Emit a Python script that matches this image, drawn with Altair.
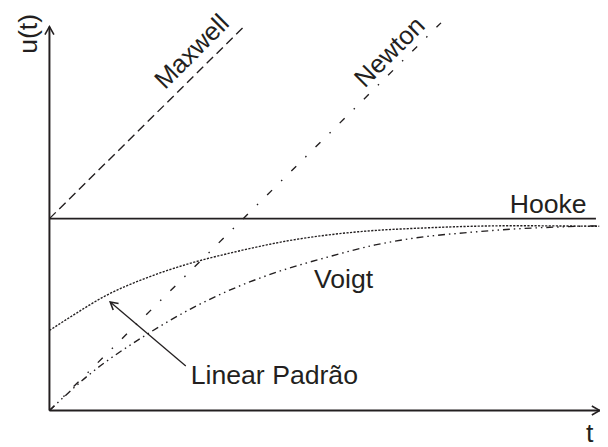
import altair as alt
import pandas as pd

# ---- data (t, u in arbitrary units) ----
maxwell_t = [0.0, 3.57]
maxwell_u = [3.5, 7.02]
newton_t = [0.0, 7.15]
newton_u = [0.0, 7.07]
hooke_t = [0.0, 9.98]
hooke_u = [3.5, 3.5]
voigt_t = [0.0, 0.72, 1.75, 2.65, 3.42, 4.14, 5.05, 5.95, 6.85, 7.57, 8.47, 9.37, 10.04]
voigt_u = [0.0, 0.65, 1.37, 1.89, 2.25, 2.52, 2.79, 3.02, 3.17, 3.24, 3.31, 3.35, 3.37]
lp_t = [0.0, 0.42, 1.02, 1.80, 2.52, 3.42, 4.44, 5.64, 6.85, 8.47, 10.04]
lp_u = [1.46, 1.73, 2.09, 2.43, 2.67, 2.90, 3.11, 3.26, 3.33, 3.37, 3.36]

# axes extents
x_axis_t = [0.0, 10.05]
x_axis_u = [0.0, 0.0]
y_axis_t = [0.0, 0.0]
y_axis_u = [0.0, 7.0]

# labels
left_text = ["Voigt", "Linear Padrão", "t"]
left_t = [4.83, 2.58, 9.80]
left_u = [2.23, 0.49, -0.58]

right_text = ["Hooke"]
right_t = [9.81]
right_u = [3.60]

diag_text = ["Maxwell", "Newton"]
diag_t = [2.11, 5.76]
diag_u = [5.84, 5.87]

# annotation arrow (tail -> tip)
ann_t = [2.49, 1.11]
ann_u = [0.81, 1.98]

INK = "#231f20"
FONT = "Liberation Sans"
FS = 27

X = lambda: alt.X("t:Q", scale=alt.Scale(domain=[0, 10], nice=False, zero=False), axis=None)
Y = lambda: alt.Y("u:Q", scale=alt.Scale(domain=[0, 7], nice=False, zero=False), axis=None)


def line(ts, us, **kw):
    df = pd.DataFrame({"t": ts, "u": us, "o": list(range(len(ts)))})
    return alt.Chart(df).mark_line(color=INK, **kw).encode(x=X(), y=Y(), order="o:Q")


def texts(ts, us, txt, size=FS, **kw):
    df = pd.DataFrame({"t": ts, "u": us, "txt": txt})
    return alt.Chart(df).mark_text(
        baseline="alphabetic", font=FONT, fontSize=size, color=INK, **kw
    ).encode(x=X(), y=Y(), text="txt:N")


axes = line(x_axis_t, x_axis_u, strokeWidth=2) + line(y_axis_t, y_axis_u, strokeWidth=2)

chev = "M-0.65,1.15L0,0L0.65,1.15"
arrows_df = pd.DataFrame({
    "t": [y_axis_t[1], x_axis_t[1], ann_t[1]],
    "u": [y_axis_u[1], x_axis_u[1], ann_u[1]],
    "ang": [0, 90, 310],
    "sz": [196, 196, 170],
})
arrows = alt.Chart(arrows_df).mark_point(
    shape=chev, filled=False, color=INK, strokeWidth=1.6, opacity=1
).encode(
    x=X(), y=Y(),
    angle=alt.Angle("ang:Q", scale=None),
    size=alt.Size("sz:Q", scale=None),
)

maxwell = line(maxwell_t, maxwell_u, strokeWidth=1.4, strokeDash=[9, 5])
newton = line(newton_t, newton_u, strokeWidth=1.4, strokeDash=[7, 13, 1.5, 13])
hooke = line(hooke_t, hooke_u, strokeWidth=1.6)
voigt = line(voigt_t, voigt_u, strokeWidth=1.4, strokeDash=[7, 4, 1.5, 4, 1.5, 4], interpolate="monotone")
lp = line(lp_t, lp_u, strokeWidth=1.4, strokeDash=[2.2, 1.4], interpolate="monotone")
ann = line(ann_t, ann_u, strokeWidth=1.3)

labels_l = texts(left_t, left_u, left_text, align="left")
labels_r = texts(right_t, right_u, right_text, align="right")
diag = texts(diag_t, diag_u, diag_text, size=26, align="left", angle=315)
ylab = texts([-0.23], [6.87], ["u(t)"], align="center", angle=270)

chart = alt.layer(
    axes, hooke, maxwell, newton, voigt, lp, ann, arrows, labels_l, labels_r, diag, ylab
).properties(
    width=555, height=389,
    padding={"left": 42, "top": 16, "right": 3, "bottom": 34},
    autosize=alt.AutoSizeParams(type="none"),
).configure_view(stroke=None)

chart.save("out.html", embed_options={"renderer": "svg", "actions": False})
